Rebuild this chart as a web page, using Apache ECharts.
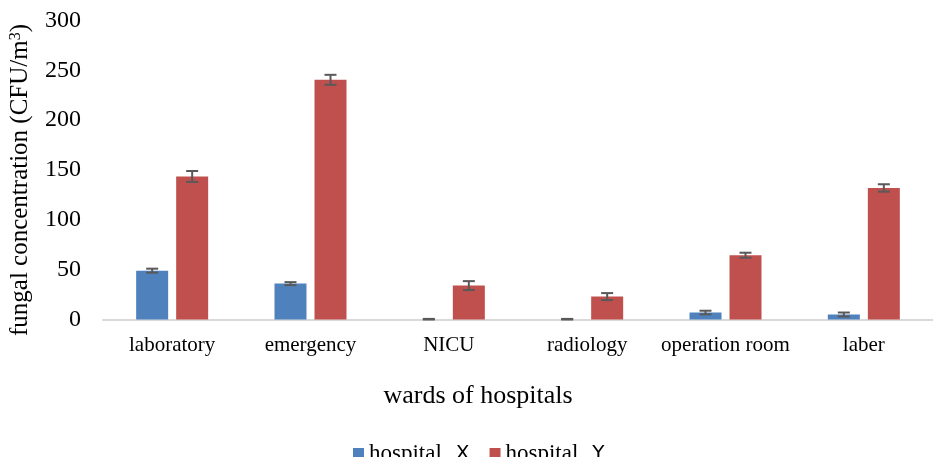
<!DOCTYPE html>
<html>
<head>
<meta charset="utf-8">
<script src="https://cdn.jsdelivr.net/npm/echarts@6/dist/echarts.min.js"></script>
<style>
  html, body { margin: 0; padding: 0; background: #fff; }
</style>
</head>
<body>
<div id="wardsChart" style="width: 933px; height: 457px"></div>
<script>
// wards and measured fungal concentration (mean and error)
const wards = ["laboratory", "emergency", "NICU", "radiology", "operation room", "laber"];
const hospitalX = [49, 36, 0, 0, 7, 5];
const hospitalXErr = [2, 1.5, 0.6, 0.6, 1.8, 2];
const hospitalY = [143.5, 240.5, 34, 23, 64.5, 132];
const hospitalYErr = [5.5, 5, 4.5, 3.5, 2.5, 3.7];
const yTicks = { min: 0, max: 300, interval: 50 };

const serif = "Liberation Serif";
const barW = 32;
const barShift = 20;

function errorData(means, errs) {
  let out = [];
  means.forEach((m, i) => {
    out.push([i, Math.max(0, m - errs[i]), m + errs[i]]);
  });
  return out;
}

function errorBars(shift) {
  return function (params, api) {
    let x = api.coord([api.value(0), api.value(1)])[0] + shift;
    let low = api.coord([api.value(0), api.value(1)])[1];
    let high = api.coord([api.value(0), api.value(2)])[1];
    let cap = 6;
    let style = { stroke: "#595959", lineWidth: 2 };
    return {
      type: "group",
      children: [
        { type: "line", shape: { x1: x, y1: high, x2: x, y2: low }, style: style },
        { type: "line", shape: { x1: x - cap, y1: high, x2: x + cap, y2: high }, style: style },
        { type: "line", shape: { x1: x - cap, y1: low, x2: x + cap, y2: low }, style: style }
      ]
    };
  };
}

let chart = echarts.init(document.getElementById("wardsChart"));

chart.setOption({
  animation: false,
  textStyle: { fontFamily: serif },
  grid: {
    left: 99,
    width: 844,
    top: 20.5,
    height: 299
  },
  legend: {
    left: 348,
    top: 437,
    itemWidth: 11,
    itemHeight: 11,
    itemGap: 20,
    icon: "rect",
    data: ["hospital X", "hospital Y"],
    formatter: function (name) {
      return "{a|hospital}{b|" + name.slice(-1) + "}";
    },
    textStyle: {
      rich: {
        a: { fontFamily: serif, fontSize: 23, color: "#000" },
        b: { fontFamily: "DejaVu Sans", fontSize: 20, color: "#000", padding: [0, 0, 0, 14] }
      }
    }
  },
  xAxis: {
    type: "category",
    data: wards,
    name: "wards of hospitals",
    nameLocation: "middle",
    nameGap: 64,
    nameTextStyle: {
      fontFamily: serif,
      fontSize: 26,
      color: "#000",
      padding: [0, 80, 0, 0]
    },
    axisLine: { lineStyle: { color: "#d9d9d9", width: 2 } },
    axisTick: { show: false },
    axisLabel: { interval: 0, fontFamily: serif, fontSize: 21, color: "#000", margin: 15 }
  },
  yAxis: {
    type: "value",
    min: yTicks.min,
    max: yTicks.max,
    interval: yTicks.interval,
    name: "fungal concentration (CFU/m{sup|3})",
    nameLocation: "middle",
    nameGap: 70,
    nameTextStyle: {
      fontFamily: serif,
      fontSize: 25,
      color: "#000",
      padding: [0, 20, 0, 0],
      rich: {
        sup: { fontFamily: serif, fontSize: 16, verticalAlign: "top", color: "#000" }
      }
    },
    axisLine: { show: false },
    axisTick: { show: false },
    splitLine: { show: false },
    axisLabel: { fontFamily: serif, fontSize: 24, color: "#000", margin: 22 }
  },
  series: [
    {
      name: "hospital X",
      type: "bar",
      barWidth: barW,
      barGap: "25%",
      itemStyle: { color: "#4f81bd" },
      data: hospitalX
    },
    {
      name: "hospital Y",
      type: "bar",
      barWidth: barW,
      itemStyle: { color: "#c0504d" },
      data: hospitalY
    },
    {
      type: "custom",
      renderItem: errorBars(-barShift),
      data: errorData(hospitalX, hospitalXErr),
      z: 10
    },
    {
      type: "custom",
      renderItem: errorBars(barShift),
      data: errorData(hospitalY, hospitalYErr),
      z: 10
    }
  ]
});
</script>
</body>
</html>
